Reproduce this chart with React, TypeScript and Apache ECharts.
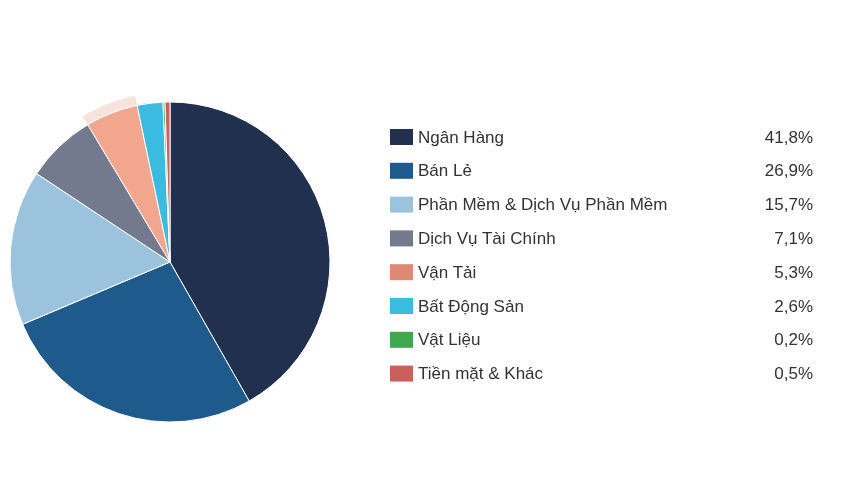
import React, { useEffect, useRef } from 'react';
import * as echarts from 'echarts';

const categories = [
  'Ngân Hàng',
  'Bán Lẻ',
  'Phần Mềm & Dịch Vụ Phần Mềm',
  'Dịch Vụ Tài Chính',
  'Vận Tải',
  'Bất Động Sản',
  'Vật Liệu',
  'Tiền mặt & Khác',
];
const weights = [41.8, 26.9, 15.7, 7.1, 5.3, 2.6, 0.2, 0.5];
const colors = ['#22304f', '#1e5a8c', '#9cc3dd', '#737a8e', '#de8a72', '#3bbbe0', '#3fa84f', '#c8615a'];
// hovered slice (Vận Tải) is drawn brighter with a halo, like the reference
const hoverName = 'Vận Tải';
const hoverColor = '#f2a68d';
const haloColor = 'rgba(222,138,114,0.25)';

const fmt = (v: number) => v.toFixed(1).replace('.', ',') + '%';

const PieChart = () => {
  const chartRef = useRef<HTMLDivElement>(null);

  useEffect(() => {
    if (!chartRef.current) return;
    const chart = echarts.init(chartRef.current, null, { renderer: 'svg' });

    const option = {
      animation: false,
      textStyle: { fontFamily: '"Liberation Sans", Arial, sans-serif' },
      legend: {
        orient: 'vertical',
        left: 390,
        top: 128.5,
        padding: 0,
        itemWidth: 23,
        itemHeight: 16,
        itemGap: 16.8,
        icon: 'rect',
        selectedMode: false,
        data: categories.map((name, i) => ({ name, itemStyle: { color: colors[i] } })),
        formatter: (name: string) => {
          const i = categories.indexOf(name);
          return `{n|${name}}{v|${fmt(weights[i])}}`;
        },
        textStyle: {
          color: '#333',
          fontSize: 17,
          rich: {
            n: { width: 340, fontSize: 17, lineHeight: 16, color: '#333' },
            v: { width: 55, align: 'right', fontSize: 17, lineHeight: 16, color: '#333' },
          },
        },
      },
      series: [
        {
          type: 'pie',
          silent: true,
          center: [170, 262],
          radius: [160, 170],
          label: { show: false },
          labelLine: { show: false },
          itemStyle: { borderWidth: 0 },
          data: categories.map((name, i) => ({
            name,
            value: weights[i],
            itemStyle: { color: name === hoverName ? haloColor : 'rgba(0,0,0,0)' },
          })),
        },
        {
          type: 'pie',
          silent: true,
          center: [170, 262],
          radius: [0, 160],
          label: { show: false },
          labelLine: { show: false },
          itemStyle: { borderColor: '#fff', borderWidth: 1 },
          data: categories.map((name, i) => ({
            name,
            value: weights[i],
            itemStyle: { color: name === hoverName ? hoverColor : colors[i] },
          })),
        },
      ],
    };

    chart.setOption(option);
    return () => {
      chart.dispose();
    };
  }, []);

  return <div ref={chartRef} style={{ position: 'fixed', left: 0, top: 0, width: '850px', height: '500px' }} />;
};

export default function App() {
  return <PieChart />;
}
